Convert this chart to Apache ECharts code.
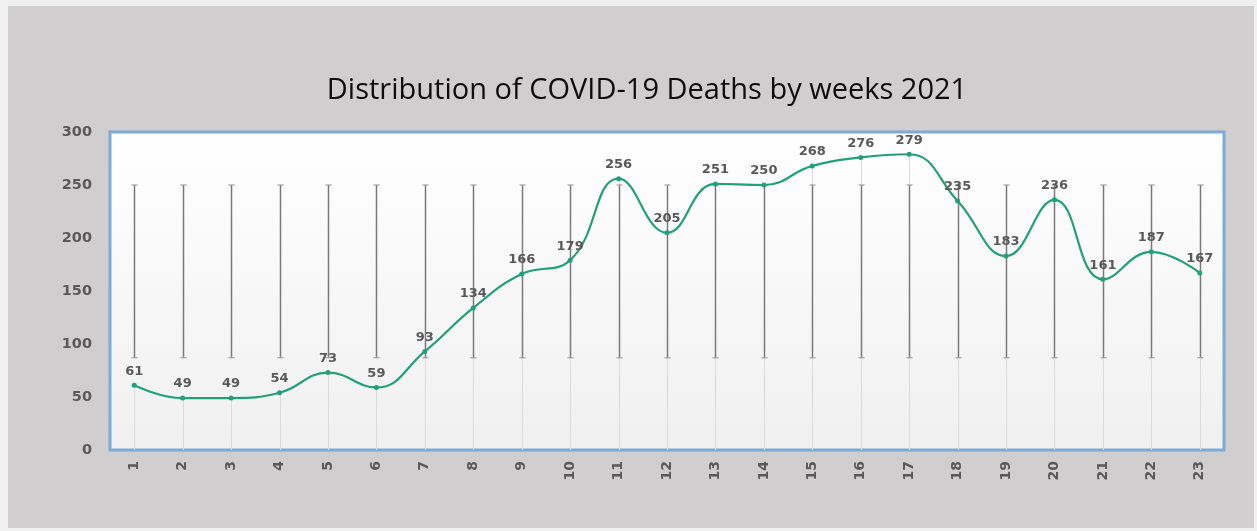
<!DOCTYPE html>
<html>
<head>
<meta charset="utf-8">
<script src="https://cdn.jsdelivr.net/npm/echarts@6/dist/echarts.min.js"></script>
<style>
  html, body { margin: 0; padding: 0; width: 1257px; height: 531px; background: #f0f0f0; overflow: hidden; }
  #chart { position: absolute; left: 8px; top: 6px; width: 1246px; height: 522px; background: #d0cece; }
</style>
</head>
<body>
<div id="chart"></div>
<script>
const titleText = 'Distribution of COVID-19 Deaths by weeks 2021';
const weeks = ['1','2','3','4','5','6','7','8','9','10','11','12','13','14','15','16','17','18','19','20','21','22','23'];
const deaths = [61, 49, 49, 54, 73, 59, 93, 134, 166, 179, 256, 205, 251, 250, 268, 276, 279, 235, 183, 236, 161, 187, 167];
const barLow  = [87, 87, 87, 87, 87, 87, 87, 87, 87, 87, 87, 87, 87, 87, 87, 87, 87, 87, 87, 87, 87, 87, 87];
const barHigh = [250, 250, 250, 250, 250, 250, 250, 250, 250, 250, 250, 250, 250, 250, 250, 250, 250, 250, 250, 250, 250, 250, 250];
const yTicks = { min: 0, max: 300, interval: 50 };

const chart = echarts.init(document.getElementById('chart'), null, { renderer: 'canvas' });

const rangeData = weeks.map((w, i) => [i, barLow[i], barHigh[i]]);
const dropData = weeks.map((w, i) => [i, 0, deaths[i]]);

const labelColor = '#595959';

const option = {
  backgroundColor: 'transparent',
  animation: false,
  title: {
    text: titleText,
    left: 634,
    top: 65,
    textAlign: 'center',
    textStyle: { fontFamily: 'Open Sans', fontSize: 29, fontWeight: 'normal', color: '#0d0d0d' }
  },
  grid: {
    left: 102, top: 126, width: 1114, height: 318,
    show: true,
    borderColor: '#7eaad6',
    borderWidth: 3,
    backgroundColor: {
      type: 'linear', x: 0, y: 0, x2: 0, y2: 1,
      colorStops: [{ offset: 0, color: '#ffffff' }, { offset: 1, color: '#f0f0f0' }]
    }
  },
  xAxis: {
    type: 'category',
    data: weeks,
    boundaryGap: true,
    axisLine: { show: false },
    axisTick: { show: false },
    splitLine: { show: false },
    axisLabel: {
      rotate: 90, margin: 11,
      fontFamily: 'DejaVu Sans', fontWeight: 'bold', fontSize: 14, color: labelColor
    }
  },
  yAxis: {
    type: 'value',
    min: yTicks.min, max: yTicks.max, interval: yTicks.interval,
    axisLine: { show: false },
    axisTick: { show: false },
    splitLine: { show: false },
    axisLabel: {
      margin: 18,
      fontFamily: 'DejaVu Sans', fontWeight: 'bold', fontSize: 14.5, color: labelColor
    }
  },
  series: [
    {
      type: 'custom',
      name: 'drop',
      data: dropData,
      encode: { x: 0, y: [1, 2] },
      z: 1,
      silent: true,
      renderItem: function (params, api) {
        const p0 = api.coord([api.value(0), api.value(1)]);
        const p1 = api.coord([api.value(0), api.value(2)]);
        return {
          type: 'line',
          shape: { x1: Math.round(p0[0]) + 0.5, y1: p0[1], x2: Math.round(p1[0]) + 0.5, y2: p1[1] },
          style: { stroke: '#dadada', lineWidth: 1 }
        };
      }
    },
    {
      type: 'custom',
      name: 'range',
      data: rangeData,
      encode: { x: 0, y: [1, 2] },
      z: 2,
      silent: true,
      renderItem: function (params, api) {
        const lo = api.coord([api.value(0), api.value(1)]);
        const hi = api.coord([api.value(0), api.value(2)]);
        const x = Math.round(lo[0]) + 0.5;
        const cw = 3;
        return {
          type: 'group',
          children: [
            { type: 'line', shape: { x1: x, y1: lo[1], x2: x, y2: hi[1] }, style: { stroke: '#7a7a7a', lineWidth: 1.5 } },
            { type: 'line', shape: { x1: x - cw, y1: hi[1], x2: x + cw, y2: hi[1] }, style: { stroke: '#a0a0a0', lineWidth: 1.2 } },
            { type: 'line', shape: { x1: x - cw, y1: lo[1], x2: x + cw, y2: lo[1] }, style: { stroke: '#a0a0a0', lineWidth: 1.2 } }
          ]
        };
      }
    },
    {
      type: 'line',
      name: 'Deaths',
      data: deaths,
      smooth: 0.45,
      z: 5,
      symbol: 'circle',
      symbolSize: 5,
      lineStyle: { color: '#22a07a', width: 2.2 },
      itemStyle: { color: '#22a07a' },
      label: {
        show: true, position: 'top', distance: 5,
        fontFamily: 'DejaVu Sans', fontWeight: 'bold', fontSize: 13, color: labelColor
      }
    }
  ]
};

chart.setOption(option);
</script>
</body>
</html>
